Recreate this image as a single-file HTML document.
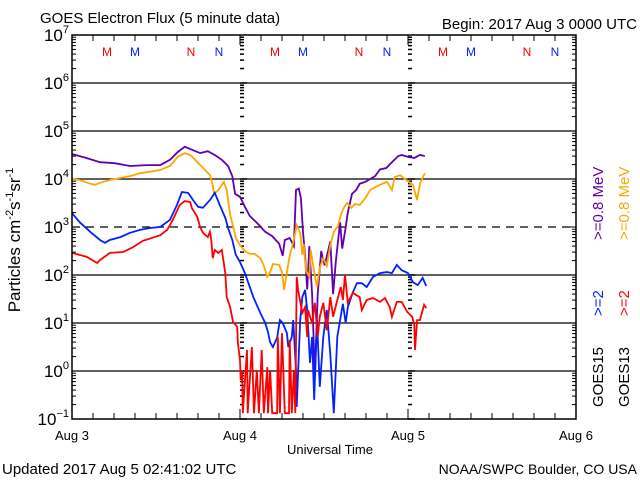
<!DOCTYPE html>
<html><head><meta charset="utf-8"><style>
html,body{margin:0;padding:0;background:#fff;}
svg{display:block;font-family:"Liberation Sans",sans-serif;}
</style></head><body>
<svg id="chart" width="640" height="480" viewBox="0 0 640 480" xmlns="http://www.w3.org/2000/svg">
<rect width="640" height="480" fill="#fff"/>
<text x="40" y="23" font-size="15">GOES Electron Flux (5 minute data)</text>
<text x="637" y="29" font-size="15" text-anchor="end">Begin: 2017 Aug 3 0000 UTC</text>
<g id="grid"></g>
<g id="ticks"></g>
<g id="ylabels"></g>
<g id="xlabels"></g>
<g id="markers"></g>
<g id="series"></g>
<rect x="72" y="35" width="504" height="384" fill="none" stroke="#000" stroke-width="1.5"/>
<text transform="translate(20,240) rotate(-90)" font-size="17" text-anchor="middle">Particles cm<tspan font-size="11" dy="-7">-2</tspan><tspan dy="7">s</tspan><tspan font-size="11" dy="-7">-1</tspan><tspan dy="7">sr</tspan><tspan font-size="11" dy="-7">-1</tspan></text>
<text x="330" y="454" font-size="13" text-anchor="middle">Universal Time</text>
<text x="2" y="474" font-size="15">Updated 2017 Aug  5 02:41:02 UTC</text>
<text x="637" y="474" font-size="14" text-anchor="end">NOAA/SWPC Boulder, CO USA</text>
<g font-size="15">
<text transform="translate(603,240) rotate(-90)" fill="#6000b0">&gt;=0.8  MeV</text>
<text transform="translate(629,240) rotate(-90)" fill="#ffa500">&gt;=0.8  MeV</text>
<text transform="translate(603,316) rotate(-90)" fill="#0022ff">&gt;=2</text>
<text transform="translate(629,316) rotate(-90)" fill="#ff0000">&gt;=2</text>
<text transform="translate(603,407) rotate(-90)" fill="#000">GOES15</text>
<text transform="translate(629,407) rotate(-90)" fill="#000">GOES13</text>
</g>
</svg>
<script>
// hours since 2017 Aug 3 00:00 UTC, log10 flux
const purpleHours=[0,2,4,6.1,8.3,10.7,12.6,14,15.1,16.1,17.3,18.3,19.4,20.4,21.4,22.3,22.9,23.3,24,24.7,25.4,26.6,27.6,28.6,29.6,30.1,30.4,31.1,31.7,32,32.4,32.7,33,33.3,33.6,33.9,34.3,34.7,35.1,35.6,36.1,36.9,37.3,37.7,38.3,38.6,39,39.4,40,40.6,41.1,41.9,42.6,43.3,44,44.9,45.7,46.6,47.1,48,48.9,49.7,50.4];
const purpleLog=[4.52,4.44,4.35,4.33,4.27,4.29,4.29,4.4,4.56,4.67,4.6,4.54,4.58,4.5,4.4,4.27,4.06,3.69,3.63,3.42,3.23,3.06,2.9,2.81,2.65,2.4,2.73,2.77,2.6,3.77,3.8,3.6,2.9,2.4,1.7,2.6,1.6,-0.1,1.6,2.5,2.2,2.7,1.6,2.3,3.1,2.55,2.9,3.3,3.69,3.77,3.9,3.94,4.0,4.06,4.2,4.23,4.35,4.48,4.5,4.46,4.44,4.5,4.48];
const orangeHours=[0,1.1,2.6,3.3,4,5.4,6.9,8.3,9.7,11.1,12.6,14,15.1,16.1,16.9,17.6,18.3,19,19.7,20,20.3,20.9,21.7,22.1,22.6,23,23.4,24,24.7,25.4,26.1,26.9,27.4,27.9,28.3,28.7,29.6,30,30.3,30.7,31.1,31.7,32.1,32.6,32.9,33.1,33.4,33.9,34.1,34.6,35,35.4,35.9,36.4,36.9,37.4,38,38.4,38.9,39.3,39.9,40.4,41.1,41.9,42.6,43.3,44,45,45.7,46.1,46.9,47.9,48.7,49.3,49.7,50.4];
const orangeLog=[4.0,3.98,3.9,3.88,3.92,3.98,4.02,4.06,4.12,4.15,4.19,4.27,4.46,4.54,4.5,4.4,4.29,4.19,4.08,3.94,3.69,3.77,3.94,3.77,3.25,3.02,2.77,2.62,2.5,2.44,2.44,2.35,2.2,1.96,2.06,2.23,2.21,2.06,1.69,2.06,2.4,2.73,3.04,2.88,2.42,2.65,2.1,1.96,2.52,2.06,1.75,2.15,2.35,2.19,2.62,2.9,3.02,3.25,3.42,3.5,3.4,3.48,3.46,3.6,3.77,3.83,3.88,3.94,3.77,4.04,4.08,3.96,3.88,3.56,3.9,4.12];
const blueHours=[0,1.1,2.6,4,4.7,5.4,6.9,8.3,9.7,11.1,12.6,14,15,15.7,16.6,17.3,18,18.7,19.7,20.4,21.1,21.9,22.3,22.9,23.4,24,24.7,25.9,26.9,27.6,28,28.3,28.7,29.3,29.7,30.1,30.7,30.9,31.4,31.6,32,32.1,32.6,32.9,33.3,33.6,34,34.3,34.6,35,35.4,35.9,36.4,36.9,37.4,37.9,38.3,38.7,39.1,39.4,40.1,40.7,41.4,42.1,43,44,45,45.7,46.4,47.1,48,48.7,49.4,50.1,50.6];
const blueLog=[3.29,3.1,2.9,2.73,2.67,2.73,2.79,2.88,2.94,2.98,3.0,3.15,3.46,3.73,3.71,3.56,3.42,3.4,3.56,3.71,3.46,3.19,2.98,2.73,2.42,2.27,2.04,1.54,1.21,1.0,0.81,0.6,0.5,0.69,1.06,1.0,0.79,0.5,0.71,1.06,0.02,-0.75,1.06,1.54,1.69,1.27,0.17,0.71,-0.6,1.06,-0.33,0.71,1.27,0.35,-0.88,0.71,1.06,1.4,1.0,1.33,1.63,1.83,1.83,1.75,1.96,2.04,2.06,2.04,2.21,2.1,2.04,1.85,1.79,1.94,1.77];
const redHours=[0,2.1,3.6,4,5.4,7.3,8.7,10.1,12.6,13.6,14.4,15.4,16.1,16.9,17.1,17.9,18.3,18.7,19.4,19.7,19.9,20.1,20.4,20.9,21.4,21.9,22.1,22.6,23,23.6,23.7,24,24.1,24.3,24.4,25,25.1,25.7,26,26.4,26.7,27.1,27.4,27.9,28,28.3,28.6,29.3,29.4,29.7,30,30.4,31,31.1,31.4,31.7,31.9,32.1,32.3,32.9,33.3,33.6,33.7,34.3,34.7,35.1,35.4,35.9,36.4,36.9,37.3,37.9,38.4,38.7,39,39.4,40.1,41.1,41.4,42.1,43,44,44.7,45.4,45.7,46.4,47.1,47.9,48.6,48.9,49,49.3,49.7,50.3,50.6];
const redLog=[2.46,2.38,2.25,2.31,2.46,2.48,2.58,2.71,2.83,2.94,3.15,3.46,3.54,3.52,3.4,3.21,3.0,2.88,2.79,2.9,2.73,2.35,2.52,2.46,2.52,2.04,1.54,1.33,1.02,0.92,0.58,0.23,-0.19,0.02,-0.88,0.44,-0.88,0.5,-0.88,0.02,-0.88,0.44,-0.88,0.08,-0.88,0.02,-0.88,-0.88,0.71,-0.88,0.79,-0.88,-0.88,0.65,-0.88,0.02,-0.88,1.96,1.69,1.21,1.33,0.71,1.27,1.0,1.42,0.71,1.13,1.42,0.85,1.54,1.13,1.48,1.75,1.48,2.0,1.42,1.63,1.54,1.27,1.48,1.52,1.44,1.52,1.33,1.13,1.44,1.44,1.23,1.13,0.96,0.44,1.06,1.06,1.38,1.31];
const yDecades=[-1,0,1,2,3,4,5,6,7];
const xDayLabels=["Aug 3","Aug 4","Aug 5","Aug 6"];
const markerLabels=["M","M","N","N","M","M","N","N","M","M","N","N"];
const markerHours=[5,9,17,21,29,33,41,45,53,57,65,69];

const NS="http://www.w3.org/2000/svg";
const L=72,R=576,T=35,B=419;
const yMin=-1,yMax=7,hMax=72;
function xs(h){return L+(R-L)*h/hMax;}
function ys(lg){return B-(B-T)*(lg-yMin)/(yMax-yMin);}
function mk(tag,attrs,parent){const e=document.createElementNS(NS,tag);for(const k in attrs)e.setAttribute(k,attrs[k]);parent.appendChild(e);return e;}
const grid=document.getElementById('grid'),ticks=document.getElementById('ticks');
yDecades.forEach(d=>{
  if(d===yMin||d===yMax)return;
  const l=mk('line',{x1:L,x2:R,y1:ys(d),y2:ys(d),stroke:'#000','stroke-width':1.3},grid);
  if(d===3)l.setAttribute('stroke-dasharray','8,6');
  
  
});
function logTicks(x,dir,w){
  yDecades.forEach(d=>{
    if(d===yMax)return;
    for(let m=1;m<=9;m++){
      const y=ys(d+Math.log10(m));
      const len=m===1?7:4;
      mk('line',{x1:x,x2:x+dir*len,y1:y,y2:y,stroke:'#000','stroke-width':w},ticks);
    }
  });
}
logTicks(L,1,1);logTicks(R,-1,1);logTicks(xs(24),1,1.5);logTicks(xs(48),1,1.5);
for(let h=3;h<hMax;h+=3){
  const len=h%24===0?10:6;
  mk('line',{x1:xs(h),x2:xs(h),y1:B,y2:B-len,stroke:'#000','stroke-width':1},ticks);
  mk('line',{x1:xs(h),x2:xs(h),y1:T,y2:T+len,stroke:'#000','stroke-width':1},ticks);
}
const yl=document.getElementById('ylabels');
yDecades.forEach(d=>{
  const t=mk('text',{x:L-3,y:ys(d)+6,'font-size':17,'text-anchor':'end'},yl);
  
  
  t.innerHTML='10<tspan font-size="11" dy="-8">'+(d<0?'\u22121':d)+'</tspan>';
});
const xl=document.getElementById('xlabels');
xDayLabels.forEach((s,i)=>{
  const t=mk('text',{x:xs(i*24),y:440,'font-size':13,'text-anchor':'middle'},xl);
  
  
  t.textContent=s;
});
const mg=document.getElementById('markers');
markerLabels.forEach((s,i)=>{
  const t=mk('text',{x:xs(markerHours[i]),y:56,'font-size':12,'text-anchor':'middle',fill:i%2?'#0022ff':'#ff0000'},mg);
  
  
  t.textContent=s;
});
const sg=document.getElementById('series');
function drawSeries(hours,logs,color,name){
  let d='';
  hours.forEach((h,i)=>{
    const lg=Math.max(logs[i],-0.9);
    d+=(i?'L':'M')+xs(h).toFixed(1)+','+ys(lg).toFixed(1);
  });
  const p=mk('path',{d:d,fill:'none',stroke:color,'stroke-width':1.8,'stroke-linejoin':'miter'},sg);
  
  
}
drawSeries(purpleHours,purpleLog,'#6000b0','series-goes15-08mev');
drawSeries(orangeHours,orangeLog,'#ffa500','series-goes13-08mev');
drawSeries(blueHours,blueLog,'#0022ff','series-goes15-2mev');
drawSeries(redHours,redLog,'#ff0000','series-goes13-2mev');
</script>
</body></html>
